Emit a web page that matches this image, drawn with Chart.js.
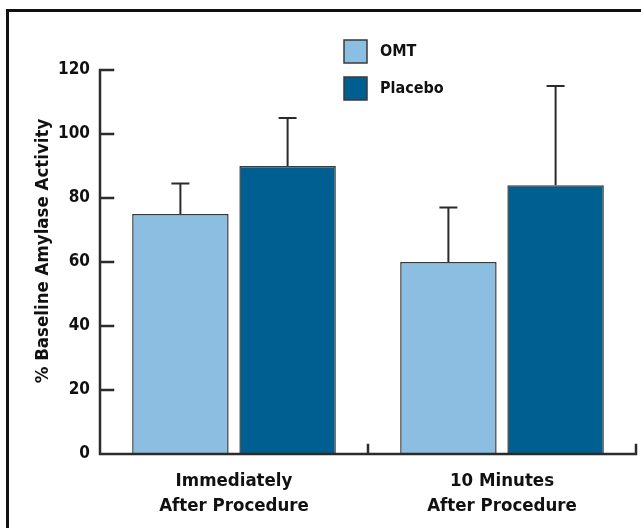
<!DOCTYPE html>
<html>
<head>
<meta charset="utf-8">
<script src="https://cdn.jsdelivr.net/npm/chart.js@4.4.1/dist/chart.umd.min.js"></script>
<style>
    html, body { margin: 0; padding: 0; background: #fff; overflow: hidden; }
    #wrap { position: relative; width: 641px; height: 528px; }
    #frame {
        position: absolute; left: 6px; top: 9px; width: 700px; height: 600px;
        border-top: 3px solid #111; border-left: 3px solid #111; pointer-events: none;
    }
</style>
</head>
<body>
<div id="wrap">
    <canvas id="chart" width="641" height="528"></canvas>
    <div id="frame"></div>
</div>
<script>
const categories = [['Immediately', 'After Procedure'], ['10 Minutes', 'After Procedure']];
const seriesNames = ['OMT', 'Placebo'];
const omtValues = [75, 60];
const placeboValues = [90, 84];
const omtErrors = [9.5, 17];
const placeboErrors = [15, 31];
const yTicks = [0, 20, 40, 60, 80, 100, 120];
const yTitle = '% Baseline Amylase Activity';

const colors = {
    omt: '#8bbee1',
    placebo: '#005f91',
    barBorder: '#3a3a3a',
    axis: '#2b2b2b',
    text: '#111111'
};
const fontFamily = "'DejaVu Sans Condensed', 'Liberation Sans Narrow', sans-serif";

// axes with inward ticks, error bars, legend and y title
const decorPlugin = {
    id: 'decor',
    afterDatasetsDraw(chart) {
        const { ctx, chartArea, scales: { x, y } } = chart;
        ctx.save();

        // error bars
        ctx.strokeStyle = colors.axis;
        ctx.lineWidth = 2;
        const errs = [omtErrors, placeboErrors];
        chart.data.datasets.forEach((ds, di) => {
            chart.getDatasetMeta(di).data.forEach((bar, i) => {
                const top = y.getPixelForValue(ds.data[i] + errs[di][i]);
                ctx.beginPath();
                ctx.moveTo(bar.x, bar.y);
                ctx.lineTo(bar.x, top);
                ctx.moveTo(bar.x - 9, top);
                ctx.lineTo(bar.x + 9, top);
                ctx.stroke();
            });
        });

        // axes
        ctx.lineWidth = 2.5;
        ctx.lineCap = 'square';
        ctx.beginPath();
        ctx.moveTo(chartArea.left, y.getPixelForValue(yTicks[yTicks.length - 1]));
        ctx.lineTo(chartArea.left, chartArea.bottom);
        ctx.lineTo(chartArea.right, chartArea.bottom);
        yTicks.forEach(v => {
            const py = y.getPixelForValue(v);
            ctx.moveTo(chartArea.left, py);
            ctx.lineTo(chartArea.left + 13, py);
        });
        const mid = (x.getPixelForValue(0) + x.getPixelForValue(1)) / 2;
        [mid, chartArea.right].forEach(px => {
            ctx.moveTo(px, chartArea.bottom);
            ctx.lineTo(px, chartArea.bottom - 9);
        });
        ctx.stroke();

        // legend
        const swatches = [colors.omt, colors.placebo];
        const rows = [40, 77];
        ctx.font = `bold 16px ${fontFamily}`;
        ctx.textBaseline = 'middle';
        ctx.textAlign = 'left';
        seriesNames.forEach((name, i) => {
            ctx.fillStyle = swatches[i];
            ctx.fillRect(344, rows[i], 23, 23);
            ctx.strokeStyle = colors.barBorder;
            ctx.lineWidth = 1.5;
            ctx.strokeRect(344, rows[i], 23, 23);
            ctx.fillStyle = colors.text;
            ctx.fillText(name, 380, rows[i] + 12);
        });

        // y title
        ctx.translate(43, 251);
        ctx.rotate(-Math.PI / 2);
        ctx.textAlign = 'center';
        ctx.font = `bold 18.5px ${fontFamily}`;
        ctx.fillText(yTitle, 0, 0);

        ctx.restore();
    }
};

new Chart(document.getElementById('chart'), {
    type: 'bar',
    data: {
        labels: categories,
        datasets: [{
            label: seriesNames[0],
            data: omtValues,
            backgroundColor: colors.omt,
            borderColor: colors.barBorder,
            borderWidth: 1.5
        }, {
            label: seriesNames[1],
            data: placeboValues,
            backgroundColor: colors.placebo,
            borderColor: colors.barBorder,
            borderWidth: 1.5
        }]
    },
    options: {
        responsive: false,
        animation: false,
        categoryPercentage: 0.8,
        barPercentage: 0.9,
        layout: { padding: { top: 70, right: 5, bottom: 0, left: 0 } },
        plugins: {
            legend: { display: false },
            tooltip: { enabled: false }
        },
        scales: {
            x: {
                grid: { display: false, drawTicks: false },
                border: { display: false },
                afterFit: scale => { scale.height = 74; },
                ticks: {
                    color: colors.text,
                    padding: 15,
                    maxRotation: 0,
                    font: { family: fontFamily, size: 18.5, weight: 'bold', lineHeight: 1.33 }
                }
            },
            y: {
                min: 0,
                max: 120,
                grid: { display: false, drawTicks: false },
                border: { display: false },
                afterFit: scale => { scale.width = 100; },
                afterBuildTicks: scale => { scale.ticks = yTicks.map(v => ({ value: v })); },
                ticks: {
                    color: colors.text,
                    padding: 10,
                    font: { family: fontFamily, size: 17, weight: 'bold' }
                }
            }
        }
    },
    plugins: [decorPlugin]
});
</script>
</body>
</html>
